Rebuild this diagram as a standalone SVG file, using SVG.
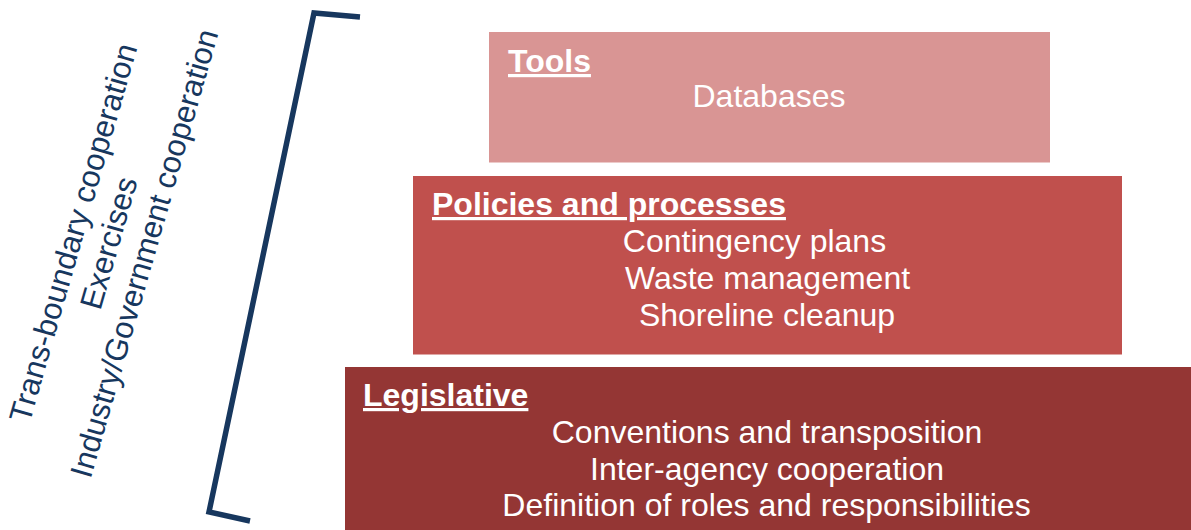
<svg xmlns="http://www.w3.org/2000/svg" width="1191" height="530" viewBox="0 0 1191 530">
<style>
.t{font-family:"Liberation Sans",Arial,sans-serif;font-size:32px;fill:#FFFFFF}
.h{font-weight:bold;text-decoration:underline}
.c{text-anchor:middle}
.side{font-family:"Liberation Sans",Arial,sans-serif;font-size:31.3px;fill:#17375E;text-anchor:middle}
</style>
<rect width="1191" height="530" fill="#FFFFFF"/>
<g id="tools">
<rect x="489" y="32" width="561" height="130.5" fill="#D99594"/>
<text class="t h" x="508" y="72">Tools</text>
<text class="t c" x="769" y="107">Databases</text>
</g>
<g id="policies">
<rect x="413" y="176" width="709" height="178.5" fill="#C0504D"/>
<text class="t h" x="432" y="215">Policies and processes</text>
<text class="t c" x="754.5" y="252">Contingency plans</text>
<text class="t c" x="767.5" y="289">Waste management</text>
<text class="t c" x="767" y="326">Shoreline cleanup</text>
</g>
<g id="legislative">
<rect x="345" y="367" width="846" height="163" fill="#943634"/>
<text class="t h" x="363" y="406">Legislative</text>
<text class="t c" x="767" y="443">Conventions and transposition</text>
<text class="t c" x="767" y="480">Inter-agency cooperation</text>
<text class="t c" x="766.5" y="516">Definition of roles and responsibilities</text>
</g>
<g id="cooperation-label" transform="translate(119,246) rotate(-74)">
<text class="side" x="0" y="-37">Trans-boundary cooperation</text>
<text class="side" x="0" y="0">Exercises</text>
<text class="side" x="0" y="37">Industry/Government cooperation</text>
</g>
<g id="connectors">
<path d="M360,17 L314,13 L209,512 L250,521" fill="none" stroke="#17375E" stroke-width="5.5" stroke-linejoin="miter"/>
</g>
</svg>
